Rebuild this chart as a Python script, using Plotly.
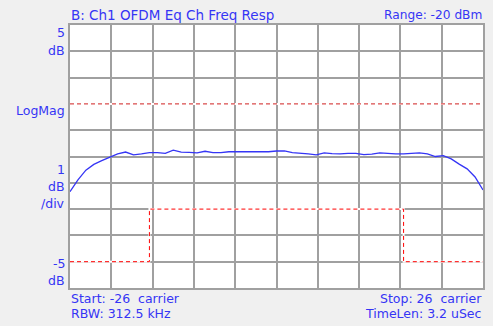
import plotly.graph_objects as go

carriers = list(range(-26, 27))
resp_db = [-1.34, -0.89, -0.52, -0.30, -0.16, -0.03, 0.10, 0.17, 0.06, 0.10,
           0.15, 0.15, 0.12, 0.24, 0.17, 0.16, 0.14, 0.20, 0.15, 0.15,
           0.18, 0.18, 0.18, 0.18, 0.18, 0.18, 0.21, 0.21, 0.15, 0.13,
           0.10, 0.06, 0.14, 0.11, 0.10, 0.12, 0.12, 0.07, 0.09, 0.14,
           0.11, 0.10, 0.10, 0.11, 0.14, 0.10, 0.00, 0.03, -0.09, -0.29,
           -0.47, -0.78, -1.27]

ref_x = [-26, 26]
ref_y = [2, 2]

mask_x = [-26, -16, -16, 16, 16, 26]
mask_y = [-4, -4, -2, -2, -4, -4]

W, H = 493, 326
L, R, T, B = 70, 8, 25, 38
PW, PH = W - L - R, H - T - B
BLUE = "#3535f5"
FONT = "DejaVu Sans"

fig = go.Figure()
# white underlay so dashed lines hide the grid beneath them
fig.add_trace(go.Scatter(x=ref_x, y=ref_y, mode="lines",
                         line=dict(color="white", width=2)))
fig.add_trace(go.Scatter(x=mask_x, y=mask_y, mode="lines",
                         line=dict(color="white", width=2)))
fig.add_trace(go.Scatter(x=ref_x, y=ref_y, mode="lines",
                         line=dict(color="#d02020", width=1, dash="4px,3px")))
fig.add_trace(go.Scatter(x=mask_x, y=mask_y, mode="lines",
                         line=dict(color="#ff0000", width=1, dash="4px,3px")))
fig.add_trace(go.Scatter(x=carriers, y=resp_db, mode="lines",
                         line=dict(color=BLUE, width=1.3)))

def px_x(x):
    return (x - L) / PW

def px_y(y):
    return (H - B - y) / PH

ann = []
def add(text, x, y, xanchor, size=12.5):
    ann.append(dict(text=text, x=px_x(x), y=px_y(y), xref="paper", yref="paper",
                    xanchor=xanchor, yanchor="middle", showarrow=False,
                    font=dict(family=FONT, size=size, color=BLUE)))

add("B: Ch1 OFDM Eq Ch Freq Resp", 69, 15, "left", 13.5)
add("Range: -20 dBm", 486, 15, "right", 12.2)
add("5", 67, 32, "right")
add("dB", 67, 50, "right")
add("LogMag", 67, 110, "right")
add("1", 67, 170, "right")
add("dB", 67, 187, "right")
add("/div", 67, 203, "right")
add("-5", 67, 263, "right")
add("dB", 67, 280, "right")
add("Start: -26  carrier", 69, 298, "left")
add("RBW: 312.5 kHz", 69, 313, "left")
add("Stop: 26  carrier", 486, 298, "right")
add("TimeLen: 3.2 uSec", 486, 313, "right")

fig.update_layout(
    width=W, height=H,
    margin=dict(l=L, r=R, t=T, b=B, pad=0),
    paper_bgcolor="#f0f0f0", plot_bgcolor="white",
    showlegend=False,
    annotations=ann,
    xaxis=dict(range=[-26, 26], tick0=-26, dtick=5.2, showticklabels=False,
               showgrid=True, gridcolor="#a0a0a0", gridwidth=2, zeroline=False,
               showline=True, linecolor="#a0a0a0", linewidth=2, mirror=True,
               ticks=""),
    yaxis=dict(range=[-5, 5], tick0=-5, dtick=1, showticklabels=False,
               showgrid=True, gridcolor="#a0a0a0", gridwidth=2, zeroline=False,
               showline=True, linecolor="#a0a0a0", linewidth=2, mirror=True,
               ticks=""),
)

fig.write_html("out.html")
